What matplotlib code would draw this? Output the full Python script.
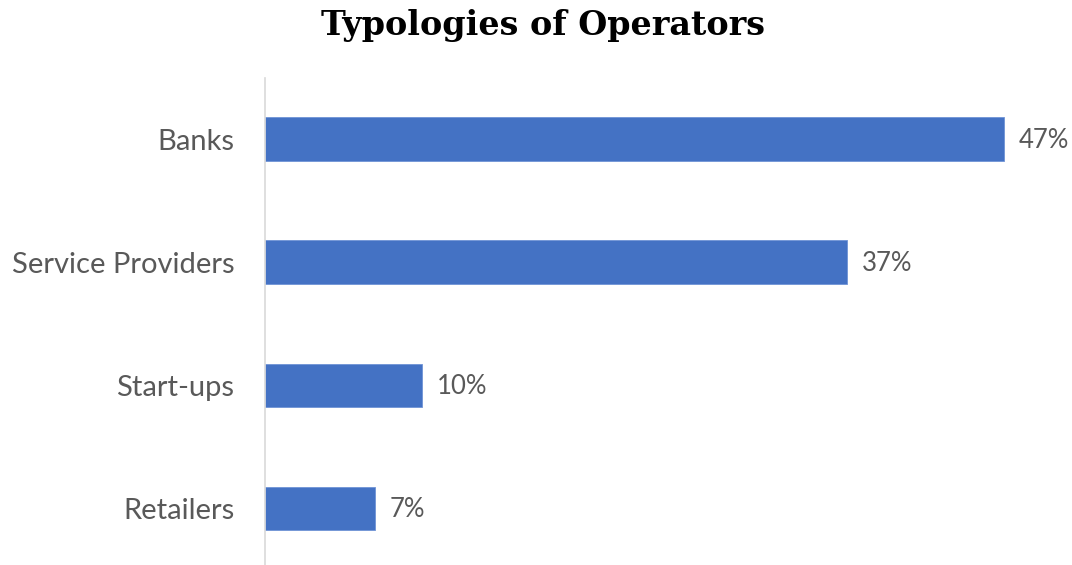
import matplotlib
matplotlib.use("Agg")
import matplotlib.pyplot as plt

categories = ["Banks", "Service Providers", "Start-ups", "Retailers"]
shares = [47, 37, 10, 7]

bar_color = "#4472C4"
text_color = "#595959"

fig = plt.figure(figsize=(10.72, 5.65), dpi=100)
ax = fig.add_axes([265 / 1072, 0.0, (1051 - 265) / 1072, (565 - 78) / 565])

y = list(range(len(categories)))
ax.barh(y, shares, height=0.35, color=bar_color, edgecolor="#6f93d6", linewidth=0.6)
ax.set_ylim(3.463, -0.496)
ax.set_xlim(0, 50)

for yi, v in zip(y, shares):
    ax.text(v + 0.95, yi + 0.015, f"{v}%", va="center", ha="left",
            fontsize=18.5, color=text_color, family="Lato")

ax.set_yticks(y)
ax.set_yticklabels(categories, fontsize=21, color=text_color, family="Lato")
ax.tick_params(axis="y", length=0, pad=22)
ax.set_xticks([])
for side in ["top", "right", "bottom"]:
    ax.spines[side].set_visible(False)
ax.spines["left"].set_color("#D9D9D9")
ax.spines["left"].set_linewidth(1.2)

fig.text(543 / 1072, 1 - 25 / 565, "Typologies of Operators", ha="center", va="center",
         fontsize=24, fontweight="bold", family="DejaVu Serif", color="black")

fig.savefig("out.png", dpi=100)
